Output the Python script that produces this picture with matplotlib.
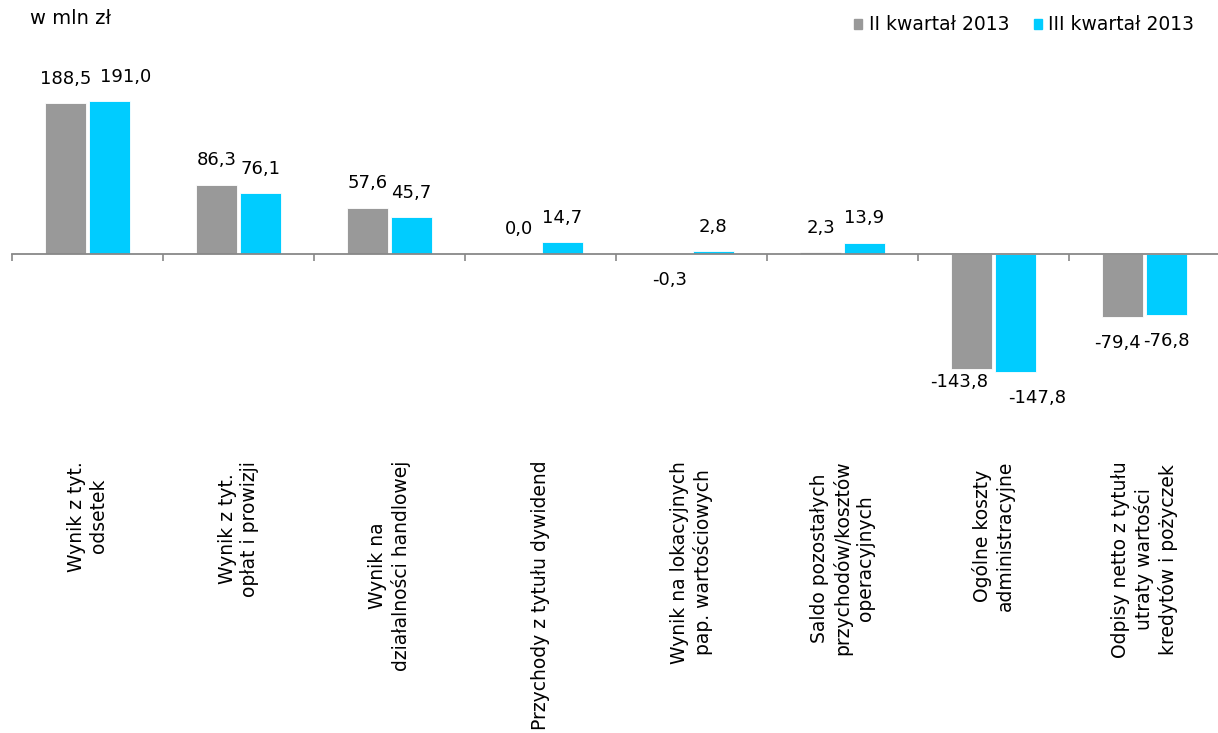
import matplotlib.pyplot as plt
import matplotlib.transforms as mtransforms
from matplotlib.patches import Patch
import numpy as np

plt.rcParams['font.family'] = ['DejaVu Sans']

categories = [
    'Wynik z tyt.\nodsetek',
    'Wynik z tyt.\nopłat i prowizji',
    'Wynik na\ndziałalności handlowej',
    'Przychody z tytułu dywidend',
    'Wynik na lokacyjnych\npap. wartościowych',
    'Saldo pozostałych\nprzychodów/kosztów\noperacyjnych',
    'Ogólne koszty\nadministracyjne',
    'Odpisy netto z tytułu\nutraty wartości\nkredytów i pożyczek',
]
q2_2013 = [188.5, 86.3, 57.6, 0.0, -0.3, 2.3, -143.8, -79.4]
q3_2013 = [191.0, 76.1, 45.7, 14.7, 2.8, 13.9, -147.8, -76.8]
series_names = ['II kwartał 2013', 'III kwartał 2013']
colors = ['#999999', '#00CCFF']

# manual nudges of data labels (points), like in the original sheet
nudge = {(1, 0): (12, 0), (0, 6): (-9, 9), (1, 6): (16, 0), (0, 7): (-4, 0)}


def fmt(v):
    return f'{v:.1f}'.replace('.', ',')


fig = plt.figure(figsize=(12.18, 7.33), dpi=100)
ax = fig.add_axes([12 / 1218, 273 / 733, 1208 / 1218, 419 / 733])

x = np.arange(len(categories))
width = 0.27
offset = 0.145
for k, (vals, col, sign) in enumerate([(q2_2013, colors[0], -1), (q3_2013, colors[1], 1)]):
    bars = ax.bar(x + sign * offset, vals, width, color=col,
                  edgecolor='white', linewidth=0.6)
    for i, (b, v) in enumerate(zip(bars, vals)):
        xc = b.get_x() + b.get_width() / 2
        dx, dy = nudge.get((k, i), (0, 0))
        if v >= 0:
            ax.annotate(fmt(v), (xc, v), xytext=(dx, 11 + dy), textcoords='offset points',
                        ha='center', va='bottom', fontsize=13)
        else:
            ax.annotate(fmt(v), (xc, v), xytext=(dx, -12 + dy), textcoords='offset points',
                        ha='center', va='top', fontsize=13)

ax.set_xlim(-0.5, len(categories) - 0.5)
ax.set_ylim(-258, 266)

for s in ['left', 'right', 'top']:
    ax.spines[s].set_visible(False)
ax.spines['bottom'].set_position(('data', 0))
ax.spines['bottom'].set_color('#888888')
ax.spines['bottom'].set_linewidth(1.3)
ax.set_yticks([])
ax.set_xticks(np.arange(-0.5, len(categories), 1))
ax.set_xticklabels([])
ax.tick_params(axis='x', length=5, width=1.2, color='#888888', direction='out')

trans = mtransforms.blended_transform_factory(ax.transData, ax.transAxes)
for xi, lab in zip(x, categories):
    ax.text(xi, -0.002, lab, transform=trans, rotation=90, ha='center', va='top',
            multialignment='center', fontsize=13.5, linespacing=1.22)

fig.text(30 / 1218, 1 - 18 / 733, 'w mln zł', fontsize=14, va='center', ha='left')

handles = [Patch(color=c) for c in colors]
fig.legend(handles, series_names, loc='upper right', bbox_to_anchor=(1202 / 1218, 1 - 8 / 733),
           ncol=2, frameon=False, fontsize=13.5, handlelength=0.45, handleheight=0.45,
           handletextpad=0.35, columnspacing=1.3, borderaxespad=0)

fig.savefig('out.png', dpi=100)
